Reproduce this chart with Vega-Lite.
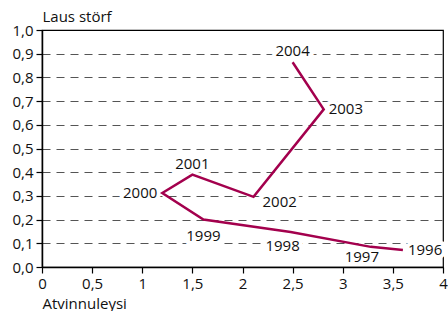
{
  "$schema": "https://vega.github.io/schema/vega-lite/v6.json",
  "width": 401,
  "height": 237,
  "autosize": "none",
  "padding": {"left": 42, "top": 30, "right": 5, "bottom": 44},
  "background": "white",
  "config": {
    "font": "Open Sans",
    "view": {"stroke": "black", "strokeWidth": 1.2}
  },
  "data": {
    "values": [
      {"year": "1996", "atvinnuleysi": 3.6, "laus": 0.072, "pos": "right"},
      {"year": "1997", "atvinnuleysi": 3.28, "laus": 0.085, "pos": "belowleftnear"},
      {"year": "1998", "atvinnuleysi": 2.48, "laus": 0.148, "pos": "belowleft"},
      {"year": "1999", "atvinnuleysi": 1.61, "laus": 0.2, "pos": "below"},
      {"year": "2000", "atvinnuleysi": 1.2, "laus": 0.312, "pos": "left"},
      {"year": "2001", "atvinnuleysi": 1.5, "laus": 0.39, "pos": "above"},
      {"year": "2002", "atvinnuleysi": 2.11, "laus": 0.296, "pos": "belowright"},
      {"year": "2003", "atvinnuleysi": 2.81, "laus": 0.665, "pos": "right"},
      {"year": "2004", "atvinnuleysi": 2.5, "laus": 0.864, "pos": "above"}
    ]
  },
  "encoding": {
    "x": {
      "field": "atvinnuleysi", "type": "quantitative",
      "scale": {"domain": [0, 4], "nice": false, "zero": true},
      "axis": {
        "title": "Atvinnuleysi",
        "values": [0, 0.5, 1, 1.5, 2, 2.5, 3, 3.5, 4],
        "labelExpr": "replace(toString(datum.value), '.', ',')",
        "grid": false,
        "domainColor": "black", "domainWidth": 1.5,
        "tickColor": "black", "tickSize": 6, "tickWidth": 1.2,
        "labelFontSize": 15, "labelColor": "#111", "labelPadding": 3,
        "labelFlush": false, "labelOverlap": false,
        "titleFontSize": 15, "titleFontWeight": "normal", "titleColor": "#111",
        "titleX": 0, "titleAlign": "left", "titleY": 29, "titleBaseline": "top"
      }
    },
    "y": {
      "field": "laus", "type": "quantitative",
      "scale": {"domain": [0, 1], "nice": false},
      "axis": {
        "title": "Laus störf",
        "values": [0, 0.1, 0.2, 0.3, 0.4, 0.5, 0.6, 0.7, 0.8, 0.9, 1.0],
        "labelExpr": "replace(format(datum.value, '.1f'), '.', ',')",
        "grid": true,
        "gridDash": [8, 6],
        "gridColor": {"condition": {"test": "datum.value >= 1", "value": "black"}, "value": "#555"},
        "gridWidth": 1.2,
        "domainColor": "black", "domainWidth": 1.5,
        "tickColor": "black", "tickSize": 6, "tickWidth": 1.2,
        "labelFontSize": 15, "labelColor": "#111", "labelPadding": 3,
        "labelFlush": false, "labelOverlap": false,
        "titleFontSize": 15, "titleFontWeight": "normal", "titleColor": "#111",
        "titleAngle": 0, "titleX": 0, "titleAlign": "left", "titleY": -6, "titleBaseline": "bottom"
      }
    }
  },
  "layer": [
    {
      "transform": [{"filter": "datum.pos == 'above'"}],
      "mark": {"type": "text", "fontSize": 15, "color": "white", "stroke": "white", "strokeWidth": 8, "align": "center", "baseline": "middle", "dy": -11},
      "encoding": {"text": {"field": "year"}}
    },
    {
      "transform": [{"filter": "datum.pos == 'right'"}],
      "mark": {"type": "text", "fontSize": 15, "color": "white", "stroke": "white", "strokeWidth": 8, "align": "left", "baseline": "middle", "dx": 5},
      "encoding": {"text": {"field": "year"}}
    },
    {
      "transform": [{"filter": "datum.pos == 'left'"}],
      "mark": {"type": "text", "fontSize": 15, "color": "white", "stroke": "white", "strokeWidth": 8, "align": "right", "baseline": "middle", "dx": -5},
      "encoding": {"text": {"field": "year"}}
    },
    {
      "transform": [{"filter": "datum.pos == 'below'"}],
      "mark": {"type": "text", "fontSize": 15, "color": "white", "stroke": "white", "strokeWidth": 8, "align": "center", "baseline": "middle", "dy": 16},
      "encoding": {"text": {"field": "year"}}
    },
    {
      "transform": [{"filter": "datum.pos == 'belowright'"}],
      "mark": {"type": "text", "fontSize": 15, "color": "white", "stroke": "white", "strokeWidth": 8, "align": "left", "baseline": "middle", "dx": 9, "dy": 5},
      "encoding": {"text": {"field": "year"}}
    },
    {
      "transform": [{"filter": "datum.pos == 'belowleft'"}],
      "mark": {"type": "text", "fontSize": 15, "color": "white", "stroke": "white", "strokeWidth": 8, "align": "center", "baseline": "middle", "dx": -8, "dy": 14},
      "encoding": {"text": {"field": "year"}}
    },
    {
      "transform": [{"filter": "datum.pos == 'belowleftnear'"}],
      "mark": {"type": "text", "fontSize": 15, "color": "white", "stroke": "white", "strokeWidth": 8, "align": "center", "baseline": "middle", "dx": -9, "dy": 10},
      "encoding": {"text": {"field": "year"}}
    },
    {
      "mark": {"type": "line", "color": "#a3004d", "strokeWidth": 2.5, "strokeJoin": "miter"},
      "encoding": {"order": {"field": "year", "type": "ordinal"}}
    },
    {
      "transform": [{"filter": "datum.pos == 'above'"}],
      "mark": {"type": "text", "fontSize": 15, "color": "#111", "align": "center", "baseline": "middle", "dy": -11},
      "encoding": {"text": {"field": "year"}}
    },
    {
      "transform": [{"filter": "datum.pos == 'right'"}],
      "mark": {"type": "text", "fontSize": 15, "color": "#111", "align": "left", "baseline": "middle", "dx": 5},
      "encoding": {"text": {"field": "year"}}
    },
    {
      "transform": [{"filter": "datum.pos == 'left'"}],
      "mark": {"type": "text", "fontSize": 15, "color": "#111", "align": "right", "baseline": "middle", "dx": -5},
      "encoding": {"text": {"field": "year"}}
    },
    {
      "transform": [{"filter": "datum.pos == 'below'"}],
      "mark": {"type": "text", "fontSize": 15, "color": "#111", "align": "center", "baseline": "middle", "dy": 16},
      "encoding": {"text": {"field": "year"}}
    },
    {
      "transform": [{"filter": "datum.pos == 'belowright'"}],
      "mark": {"type": "text", "fontSize": 15, "color": "#111", "align": "left", "baseline": "middle", "dx": 9, "dy": 5},
      "encoding": {"text": {"field": "year"}}
    },
    {
      "transform": [{"filter": "datum.pos == 'belowleft'"}],
      "mark": {"type": "text", "fontSize": 15, "color": "#111", "align": "center", "baseline": "middle", "dx": -8, "dy": 14},
      "encoding": {"text": {"field": "year"}}
    },
    {
      "transform": [{"filter": "datum.pos == 'belowleftnear'"}],
      "mark": {"type": "text", "fontSize": 15, "color": "#111", "align": "center", "baseline": "middle", "dx": -9, "dy": 10},
      "encoding": {"text": {"field": "year"}}
    }
  ]
}
